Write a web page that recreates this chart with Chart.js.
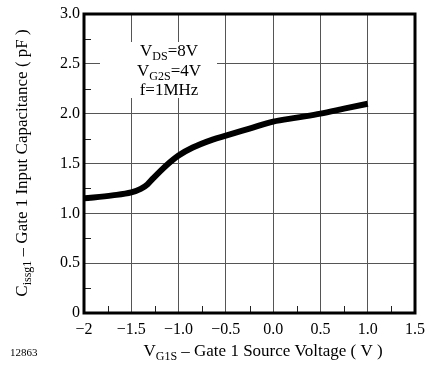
<!DOCTYPE html>
<html>
<head>
<meta charset="utf-8">
<script src="https://cdn.jsdelivr.net/npm/chart.js@4"></script>
<style>
  html, body { margin: 0; padding: 0; background: #fff; }
  #wrap { width: 432px; height: 372px; }
</style>
</head>
<body>
<div id="wrap"><canvas id="cap" width="432" height="372"></canvas></div>
<script>
// gate 1 source voltage (V) vs input capacitance (pF)
const vg1s = [-2, -1.7, -1.5, -1.4, -1.33, -1.27, -1.13, -1.0, -0.85, -0.64, -0.5, -0.25, 0, 0.25, 0.5, 0.75, 1.0];
const ciss = [1.15, 1.18, 1.21, 1.245, 1.29, 1.35, 1.48, 1.58, 1.66, 1.74, 1.78, 1.85, 1.92, 1.96, 2.0, 2.05, 2.1];

const xTicks = [-2, -1.5, -1.0, -0.5, 0, 0.5, 1.0, 1.5];
const xTickLabels = ["\u22122", "\u22121.5", "\u22121.0", "\u22120.5", "0.0", "0.5", "1.0", "1.5"];
const yTicks = [0, 0.5, 1.0, 1.5, 2.0, 2.5, 3.0];
const yTickLabels = ["0", "0.5", "1.0", "1.5", "2.0", "2.5", "3.0"];
const xMinor = [-1.75, -1.25, -0.75, -0.25, 0.25, 0.75, 1.25];
const yMinor = [0.25, 0.75, 1.25, 1.75, 2.25, 2.75];

const SERIF = "'Liberation Serif', 'DejaVu Serif', serif";

// draws text made of normal and subscript parts
function richWidth(ctx, parts, size) {
  let w = 0;
  parts.forEach(p => {
    ctx.font = (p.sub ? Math.round(size * 0.68) : size) + "px " + SERIF;
    w += ctx.measureText(p.t).width;
  });
  return w;
}
function drawRich(ctx, parts, x, y, size, align) {
  const w = richWidth(ctx, parts, size);
  let cx = align === "center" ? x - w / 2 : (align === "right" ? x - w : x);
  ctx.textAlign = "left";
  ctx.textBaseline = "alphabetic";
  parts.forEach(p => {
    ctx.font = (p.sub ? Math.round(size * 0.68) : size) + "px " + SERIF;
    ctx.fillText(p.t, cx, p.sub ? y + size * 0.25 : y);
    cx += ctx.measureText(p.t).width;
  });
}

const extras = {
  id: "extras",
  beforeDatasetsDraw(chart) {
    const ctx = chart.ctx;
    const xs = chart.scales.x, ys = chart.scales.y;
    const a = chart.chartArea;
    ctx.save();
    ctx.strokeStyle = "#222";
    ctx.lineWidth = 1;
    // minor ticks inside the frame
    yMinor.forEach(v => {
      const py = Math.round(ys.getPixelForValue(v)) + 0.5;
      ctx.beginPath(); ctx.moveTo(a.left, py); ctx.lineTo(a.left + 7, py); ctx.stroke();
    });
    xMinor.forEach(v => {
      const px = Math.round(xs.getPixelForValue(v)) + 0.5;
      ctx.beginPath(); ctx.moveTo(px, a.bottom); ctx.lineTo(px, a.bottom - 7); ctx.stroke();
    });
    // white box behind the conditions text
    ctx.fillStyle = "#fff";
    ctx.fillRect(100, 42, 117, 56);
    ctx.fillStyle = "#000";
    drawRich(ctx, [{t: "V"}, {t: "DS", sub: true}, {t: "=8V"}], 169, 56, 17, "center");
    drawRich(ctx, [{t: "V"}, {t: "G2S", sub: true}, {t: "=4V"}], 169, 76, 17, "center");
    drawRich(ctx, [{t: "f=1MHz"}], 169, 95, 17, "center");
    ctx.restore();
  },
  afterDraw(chart) {
    const ctx = chart.ctx;
    const a = chart.chartArea;
    ctx.save();
    ctx.strokeStyle = "#000";
    ctx.lineWidth = 3;
    ctx.strokeRect(a.left, a.top, a.right - a.left, a.bottom - a.top);
    ctx.fillStyle = "#000";
    // x axis title
    drawRich(ctx, [{t: "V"}, {t: "G1S", sub: true}, {t: " \u2013 Gate 1 Source Voltage ( V )"}], 263, 356, 17, "center");
    // y axis title
    ctx.translate(27, 163);
    ctx.rotate(-Math.PI / 2);
    drawRich(ctx, [{t: "C"}, {t: "issg1", sub: true}, {t: " \u2013 Gate 1 Input Capacitance ( pF )"}], 0, 0, 17, "center");
    ctx.restore();
    ctx.save();
    ctx.fillStyle = "#000";
    ctx.font = "11px " + SERIF;
    ctx.textAlign = "left";
    ctx.fillText("12863", 10, 356);
    ctx.restore();
  }
};

new Chart(document.getElementById("cap"), {
  type: "line",
  data: {
    datasets: [{
      data: vg1s.map((v, i) => ({x: v, y: ciss[i]})),
      borderColor: "#000",
      borderWidth: 6,
      pointRadius: 0,
      cubicInterpolationMode: "monotone",
      fill: false
    }]
  },
  options: {
    responsive: false,
    animation: false,
    layout: { padding: { left: 0, right: 15, top: 14, bottom: 0 } },
    plugins: { legend: { display: false }, tooltip: { enabled: false } },
    scales: {
      x: {
        type: "linear",
        min: -2, max: 1.5,
        afterBuildTicks: s => { s.ticks = xTicks.map(v => ({value: v})); },
        afterFit: s => { s.height = 59; },
        border: { display: false },
        grid: { color: "#555", lineWidth: 1, drawTicks: false },
        ticks: {
          padding: 7,
          color: "#000",
          font: { family: SERIF, size: 16 },
          maxRotation: 0,
          callback: v => xTickLabels[xTicks.indexOf(v)]
        }
      },
      y: {
        min: 0, max: 3,
        afterBuildTicks: s => { s.ticks = yTicks.map(v => ({value: v})); },
        afterFit: s => { s.width = 84; },
        border: { display: false },
        grid: { color: "#555", lineWidth: 1, drawTicks: false },
        ticks: {
          padding: 4,
          color: "#000",
          font: { family: SERIF, size: 16 },
          callback: v => yTickLabels[yTicks.indexOf(v)]
        }
      }
    }
  },
  plugins: [extras]
});
</script>
</body>
</html>
